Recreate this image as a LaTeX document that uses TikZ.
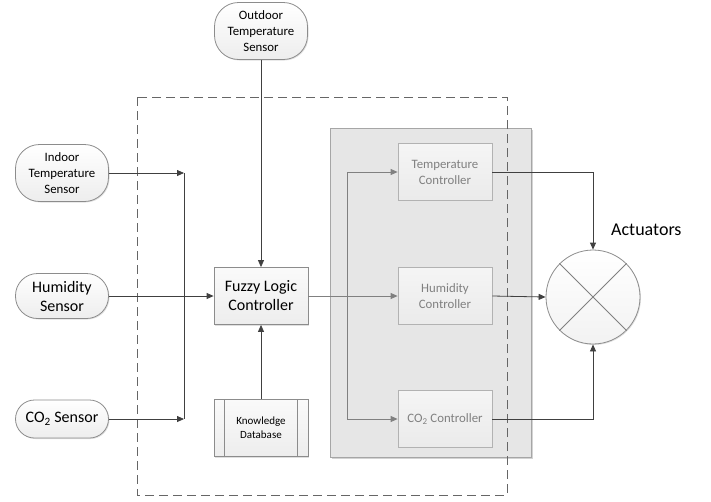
\documentclass[tikz,border=0pt]{standalone}
\usepackage{fontspec}
\setmainfont{Carlito}
\usetikzlibrary{arrows.meta,positioning,shadows}
\definecolor{linegray}{HTML}{404040}
\definecolor{softgray}{HTML}{808080}
\definecolor{panel}{HTML}{E6E6E6}
\definecolor{edge}{HTML}{8C8C8C}

\begin{document}
\begin{tikzpicture}[x=1pt,y=-1pt,
  every node/.style={align=center,inner sep=2pt},
  sensor/.style={draw=edge,line width=0.8pt,top color=white,bottom color=gray!14,
    drop shadow={shadow xshift=1pt,shadow yshift=-1pt,opacity=0.25},minimum width=93pt},
  block/.style={draw=edge,line width=0.8pt,top color=gray!4,bottom color=gray!14,minimum width=94pt,minimum height=57pt,
    drop shadow={shadow xshift=1pt,shadow yshift=-1pt,opacity=0.25}},
  ctrl/.style={draw=gray!60,line width=0.8pt,top color=gray!8,bottom color=gray!16,text=softgray,minimum width=94pt,minimum height=57pt},
  link/.style={draw=linegray,line width=0.8pt,-{Triangle[length=7pt,width=6pt]}},
  glink/.style={draw=softgray,line width=0.8pt,-{Triangle[length=7pt,width=6pt]}}]
\useasboundingbox (0,0) rectangle (711,501);
% frames
\fill[panel,drop shadow={shadow xshift=1.5pt,shadow yshift=-1.5pt,opacity=0.35}] (330,128) rectangle (531,457);
\draw[gray!70,line width=0.8pt] (330,128) rectangle (531,457);
\draw[linegray!80,line width=0.8pt,dash pattern=on 9pt off 5pt] (137,97) rectangle (507,495);
% sensors
\node[sensor,rounded corners=24pt,minimum height=57pt,font=\fontsize{12.8}{16}\selectfont] (outdoor) at (261,31) {Outdoor\\Temperature\\Sensor};
\node[sensor,rounded corners=24pt,minimum height=57pt,font=\fontsize{12.8}{16}\selectfont] (indoor) at (62,173) {Indoor\\Temperature\\Sensor};
\node[sensor,rounded corners=22pt,minimum height=45pt,font=\fontsize{16}{19}\selectfont] (humid) at (62,296) {Humidity\\Sensor};
\node[sensor,rounded corners=19pt,minimum height=38pt,font=\fontsize{16}{19}\selectfont] (cosens) at (62,419) {CO\textsubscript{2} Sensor};
% fuzzy core
\node[block,font=\fontsize{16}{19}\selectfont] (flc) at (261,296) {Fuzzy Logic\\Controller};
\node[block,font=\fontsize{11}{14}\selectfont] (kdb) at (261,428) {Knowledge\\Database};
\draw[edge,line width=0.8pt] ([xshift=11pt]kdb.north west) -- ([xshift=11pt]kdb.south west);
\draw[edge,line width=0.8pt] ([xshift=-11pt]kdb.north east) -- ([xshift=-11pt]kdb.south east);
% controllers
\node[ctrl,font=\fontsize{12.8}{16}\selectfont] (tc) at (445,172) {Temperature\\Controller};
\node[ctrl,font=\fontsize{12.8}{16}\selectfont] (hc) at (445,296) {Humidity\\Controller};
\node[ctrl,font=\fontsize{12.8}{16}\selectfont] (cc) at (445,419) {CO\textsubscript{2} Controller};
% actuators
\node[circle,draw=edge,line width=0.8pt,top color=white,bottom color=gray!10,minimum size=94pt,
  drop shadow={shadow xshift=1pt,shadow yshift=-1pt,opacity=0.25}] (act) at (593,297) {};
\draw[softgray,line width=0.8pt] (act.north west) -- (act.south east);
\draw[softgray,line width=0.8pt] (act.north east) -- (act.south west);
\node[font=\fontsize{18}{21}\selectfont,anchor=west] (actlabel) at (609,230) {Actuators};
% connectors
\coordinate (bustop) at (184,173);
\coordinate (busbot) at (184,419);
\coordinate (splittop) at (347,172);
\coordinate (splitbot) at (347,419);
\draw[linegray,line width=0.8pt] (bustop) -- (busbot);
\draw[link] (indoor.east) -- (bustop);
\draw[link] (cosens.east) -- (busbot);
\draw[link] (humid.east) -- (flc.west);
\draw[link] (outdoor.south) -- (flc.north);
\draw[link] (kdb.north) -- (flc.south);
\draw[glink] (flc.east) -- (hc.west);
\draw[softgray,line width=0.8pt] (splittop) -- (splitbot);
\draw[glink] (splittop) -- (tc.west);
\draw[glink] (splitbot) -- (cc.west);
\draw[link] (tc.east) -| (act.north);
\draw[link] (hc.east) -- (act.west);
\draw[link] (cc.east) -| (act.south);
\end{tikzpicture}
\end{document}
